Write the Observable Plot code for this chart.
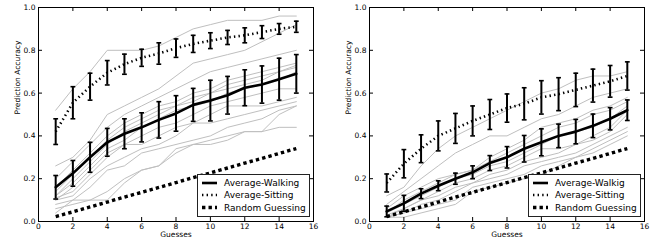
<!DOCTYPE html>
<html><head><meta charset="utf-8">
<script src="https://cdn.jsdelivr.net/npm/d3@7"></script>
<script src="https://cdn.jsdelivr.net/npm/@observablehq/plot@0.6"></script>
<style>
body{margin:0;background:#fff;}
#wrap{display:flex;width:661px;height:247px;overflow:hidden;}
</style></head><body><div id="wrap"></div>
<script>
// ---- data ----
const guesses = [1,2,3,4,5,6,7,8,9,10,11,12,13,14,15];
const xTicks = [0,2,4,6,8,10,12,14,16];
const yTicks = [0,0.2,0.4,0.6,0.8,1.0];
const legendLeft = ["Average-Walking","Average-Sitting","Random Guessing"];
const legendRight = ["Average-Walkig","Average-Sitting","Random Guessing"];
const xLabel = "Guesses";
const yLabel = "Prediction Accuracy";

const randomGuessing = [0.023,0.045,0.068,0.091,0.114,0.136,0.159,0.182,0.205,0.227,0.250,0.273,0.295,0.318,0.341];

// left panel
const leftWalkMean = [0.16,0.225,0.30,0.37,0.41,0.44,0.475,0.505,0.545,0.565,0.59,0.625,0.64,0.665,0.69];
const leftWalkErr  = [0.055,0.06,0.07,0.065,0.07,0.068,0.085,0.083,0.077,0.095,0.088,0.084,0.087,0.098,0.09];
const leftSitMean  = [0.42,0.555,0.63,0.695,0.735,0.765,0.785,0.81,0.83,0.845,0.86,0.87,0.885,0.90,0.91];
const leftSitErr   = [0.06,0.075,0.063,0.057,0.047,0.04,0.05,0.043,0.04,0.037,0.033,0.035,0.03,0.025,0.026];
const leftSubjects = [
  [0.52,0.62,0.70,0.80,0.80,0.80,0.82,0.86,0.90,0.92,0.94,0.94,0.94,0.96,0.96],
  [0.26,0.30,0.38,0.50,0.54,0.58,0.62,0.68,0.74,0.76,0.78,0.80,0.84,0.88,0.92],
  [0.20,0.28,0.36,0.44,0.50,0.54,0.58,0.62,0.66,0.70,0.72,0.74,0.76,0.78,0.80],
  [0.16,0.24,0.32,0.40,0.46,0.50,0.54,0.56,0.60,0.62,0.66,0.68,0.70,0.72,0.74],
  [0.14,0.22,0.30,0.38,0.44,0.48,0.52,0.54,0.58,0.60,0.64,0.66,0.68,0.70,0.73],
  [0.12,0.20,0.28,0.36,0.42,0.46,0.50,0.54,0.56,0.60,0.62,0.64,0.66,0.70,0.72],
  [0.12,0.18,0.26,0.34,0.38,0.44,0.48,0.52,0.54,0.56,0.60,0.62,0.64,0.66,0.70],
  [0.10,0.16,0.24,0.32,0.36,0.40,0.44,0.46,0.50,0.54,0.56,0.58,0.60,0.62,0.62],
  [0.11,0.14,0.22,0.30,0.36,0.36,0.40,0.44,0.46,0.50,0.54,0.54,0.54,0.56,0.58],
  [0.10,0.12,0.20,0.26,0.30,0.34,0.36,0.40,0.46,0.46,0.48,0.50,0.52,0.54,0.56],
  [0.08,0.10,0.16,0.24,0.26,0.32,0.34,0.36,0.38,0.40,0.44,0.46,0.48,0.52,0.54],
  [0.06,0.08,0.10,0.14,0.20,0.24,0.26,0.32,0.36,0.38,0.40,0.42,0.42,0.50,0.54],
  [0.04,0.10,0.10,0.10,0.18,0.24,0.26,0.34,0.36,0.36,0.38,0.42,0.42,0.44,0.44]
];

// right panel
const rightWalkMean = [0.047,0.085,0.13,0.167,0.20,0.23,0.273,0.30,0.34,0.37,0.40,0.42,0.447,0.48,0.52];
const rightWalkErr  = [0.025,0.037,0.023,0.023,0.026,0.03,0.035,0.05,0.062,0.063,0.055,0.057,0.055,0.052,0.048];
const rightSitMean  = [0.18,0.27,0.34,0.40,0.435,0.47,0.50,0.53,0.55,0.58,0.595,0.615,0.635,0.655,0.68];
const rightSitErr   = [0.042,0.066,0.065,0.07,0.07,0.07,0.07,0.066,0.075,0.078,0.077,0.078,0.077,0.074,0.066];
const rightSubjects = [
  [0.12,0.16,0.26,0.34,0.40,0.44,0.48,0.52,0.56,0.60,0.62,0.66,0.68,0.68,0.70],
  [0.08,0.14,0.20,0.26,0.32,0.36,0.40,0.40,0.44,0.48,0.50,0.54,0.58,0.60,0.62],
  [0.06,0.12,0.16,0.20,0.22,0.24,0.30,0.34,0.38,0.44,0.46,0.48,0.52,0.54,0.58],
  [0.04,0.10,0.14,0.18,0.22,0.24,0.28,0.32,0.36,0.40,0.44,0.46,0.50,0.52,0.56],
  [0.04,0.08,0.12,0.16,0.20,0.22,0.26,0.28,0.32,0.36,0.40,0.42,0.44,0.48,0.54],
  [0.03,0.06,0.10,0.14,0.18,0.20,0.24,0.26,0.30,0.34,0.34,0.36,0.40,0.44,0.52],
  [0.02,0.06,0.10,0.12,0.16,0.18,0.22,0.24,0.28,0.30,0.32,0.36,0.38,0.42,0.50],
  [0.02,0.04,0.08,0.10,0.14,0.18,0.20,0.22,0.26,0.28,0.30,0.32,0.36,0.40,0.44],
  [0.02,0.04,0.06,0.08,0.10,0.16,0.18,0.20,0.22,0.26,0.28,0.30,0.34,0.38,0.42],
  [0.02,0.02,0.04,0.06,0.08,0.14,0.16,0.18,0.20,0.22,0.26,0.30,0.32,0.36,0.40]
];

// ---- drawing ----
const FONT = "'DejaVu Sans', sans-serif";
const capSymbol = {draw(ctx, size){const r = Math.sqrt(size/Math.PI); ctx.moveTo(-r,0); ctx.lineTo(r,0);}};
const H = 247, MT = 7, MB = 26;
const SIT_DASH = "1.4,3.2";
const RND_DASH = "3.4,3.1";

function panel({width, marginLeft, marginRight, walkMean, walkErr, sitMean, sitErr, subjects, legend}) {
  const long = [];
  subjects.forEach((s,i) => s.forEach((v,j) => long.push({id:i, x:guesses[j], y:v})));
  const rows = guesses.map((g,i) => ({x:g, wm:walkMean[i], we:walkErr[i], sm:sitMean[i], se:sitErr[i], rg:randomGuessing[i]}));
  const pw = width - marginLeft - marginRight, ph = H - MT - MB;
  const errMarks = (m, e) => [
    Plot.ruleX(rows, {x:"x", y1:d=>d[m]-d[e], y2:d=>d[m]+d[e], stroke:"black", strokeWidth:2}),
    Plot.dot(rows, {x:"x", y:d=>d[m]-d[e], symbol:capSymbol, r:2.4, stroke:"black", strokeWidth:1.6}),
    Plot.dot(rows, {x:"x", y:d=>d[m]+d[e], symbol:capSymbol, r:2.4, stroke:"black", strokeWidth:1.6})
  ];
  const chart = Plot.plot({
    width, height:H, marginLeft, marginRight, marginTop:MT, marginBottom:MB,
    style:{fontFamily:FONT, fontSize:"8px", color:"black", background:"white"},
    x:{domain:[0,16]}, y:{domain:[0,1]},
    marks:[
      Plot.line(long, {x:"x", y:"y", z:"id", stroke:"#bfbfbf", strokeWidth:1}),
      Plot.line(rows, {x:"x", y:"rg", stroke:"black", strokeWidth:3.4, strokeDasharray:RND_DASH, strokeLinecap:"butt"}),
      Plot.line(rows, {x:"x", y:"wm", stroke:"black", strokeWidth:2.6}),
      Plot.line(rows, {x:"x", y:"sm", stroke:"black", strokeWidth:2.6, strokeDasharray:SIT_DASH, strokeLinecap:"butt"}),
      ...errMarks("wm","we"),
      ...errMarks("sm","se"),
      Plot.frame({stroke:"black"}),
      Plot.tickX(xTicks, {x:d=>d, insetTop:ph-4, stroke:"black"}),
      Plot.tickX(xTicks, {x:d=>d, insetBottom:ph-4, stroke:"black"}),
      Plot.tickY(yTicks, {y:d=>d, insetRight:pw-4, stroke:"black"}),
      Plot.tickY(yTicks, {y:d=>d, insetLeft:pw-4, stroke:"black"}),
      Plot.axisX({ticks:xTicks, tickSize:0, tickPadding:2, tickFormat:"d", label:null, fontSize:7.5}),
      Plot.axisY({ticks:yTicks, tickSize:0, tickPadding:3, tickFormat:".1f", label:null, fontSize:7.5}),
      Plot.text([xLabel], {text:d=>d, frameAnchor:"bottom", dy:15.5, fontSize:7.5}),
      Plot.text([yLabel], {text:d=>d, frameAnchor:"left", dx:-21, rotate:-90, fontSize:7.5})
    ]
  });
  // legend box (bottom-right inside the frame)
  const svg = d3.select(chart.tagName.toLowerCase()==="svg" ? chart : chart.querySelector("svg"));
  const bw = 112, bh = 42;
  const bx = width - marginRight - 4 - bw, by = H - MB - 5 - bh;
  const g = svg.append("g").attr("font-family", FONT).attr("font-size", 9).attr("text-anchor","start");
  g.append("rect").attr("x", bx+0.5).attr("y", by+0.5).attr("width", bw).attr("height", bh)
    .attr("fill","white").attr("stroke","#222").attr("stroke-width",1);
  const styles = [
    {w:2.6, dash:null}, {w:2.6, dash:SIT_DASH}, {w:3.4, dash:RND_DASH}
  ];
  const rowsY = [9, 21, 33.5];
  legend.forEach((t,i) => {
    const yy = by + rowsY[i];
    const l = g.append("line").attr("x1", bx+5).attr("x2", bx+20).attr("y1", yy).attr("y2", yy)
      .attr("stroke","black").attr("stroke-width", styles[i].w);
    if (styles[i].dash) l.attr("stroke-dasharray", styles[i].dash);
    g.append("text").attr("x", bx+27).attr("y", yy).attr("dy","0.35em").attr("fill","black")
      .attr("text-anchor","start").text(t);
  });
  return chart;
}

const wrap = document.getElementById("wrap");
wrap.appendChild(panel({width:330, marginLeft:38, marginRight:17,
  walkMean:leftWalkMean, walkErr:leftWalkErr, sitMean:leftSitMean, sitErr:leftSitErr,
  subjects:leftSubjects, legend:legendLeft}));
wrap.appendChild(panel({width:331, marginLeft:39, marginRight:17,
  walkMean:rightWalkMean, walkErr:rightWalkErr, sitMean:rightSitMean, sitErr:rightSitErr,
  subjects:rightSubjects, legend:legendRight}));
</script></body></html>
